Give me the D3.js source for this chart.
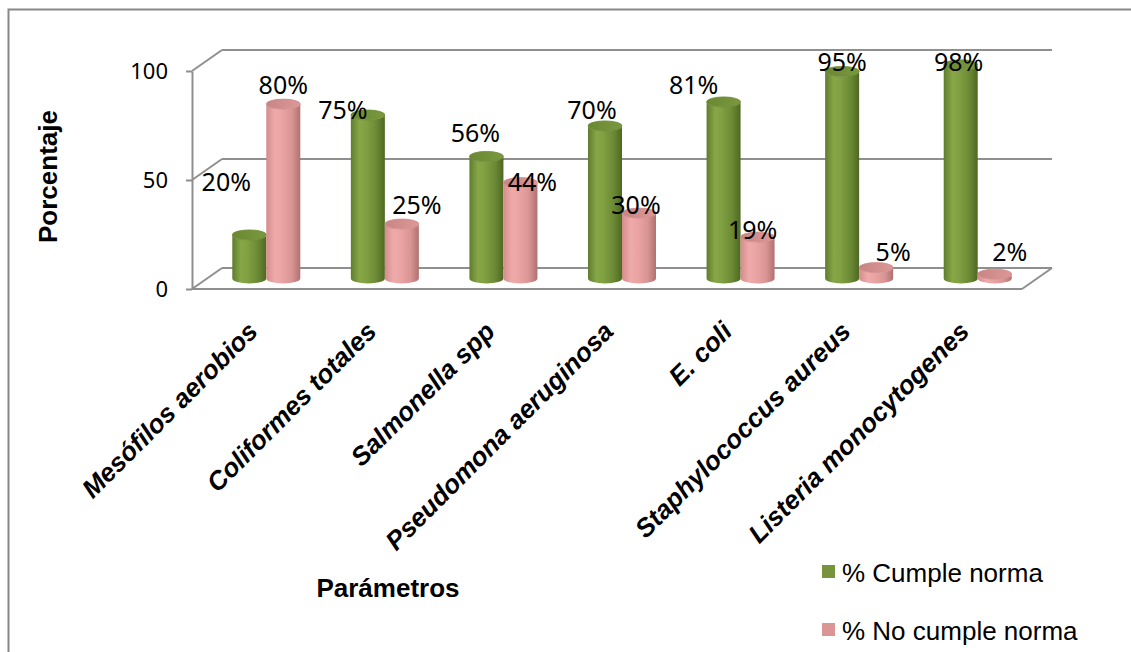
<!DOCTYPE html>
<html>
<head>
<meta charset="utf-8">
<script src="https://cdn.jsdelivr.net/npm/d3@7"></script>
<style>
  html, body { margin: 0; padding: 0; background: #fff; overflow: hidden; }
  svg { display: block; }
</style>
</head>
<body>
<svg id="chart" width="1131" height="652"></svg>
<script>
// ---------------- DATA ----------------
const categories = ["Mesófilos aerobios", "Coliformes totales", "Salmonella spp", "Pseudomona aeruginosa", "E. coli", "Staphylococcus aureus", "Listeria monocytogenes"];
const cumple = [20, 75, 56, 70, 81, 95, 98];
const noCumple = [80, 25, 44, 30, 19, 5, 2];
const seriesNames = ["% Cumple norma", "% No cumple norma"];
const yTicks = [0, 50, 100];
const yTitle = "Porcentaje";
const xTitle = "Parámetros";

// ---------------- LAYOUT ----------------
const svg = d3.select("#chart");
const depth = { dx: 30, dy: -21 };
const x = d3.scaleBand().domain(categories).range([192, 1022]).paddingInner(0).paddingOuter(0);
const y = d3.scaleLinear().domain([0, 100]).range([289, 71]);
const cylW = 34, ry = 5;
const colors = ["#77933C", "#DA9694"];
// label nudges (relative to default position above the cylinder top), mimicking Excel's 3-D placement
const labelNudge = [
  { dx: [-23, -25, -11, -13, -30, 0, -2], dy: [-40, 8, -10, -3, -4, 4, 10] },
  { dx: [0, 15, 12, -3, -5, 17, 15], dy: [-6, -6, 12, 5, 6, -3, -9] }
];

// defs: gradients
const defs = svg.append("defs");
function grad(id, stops) {
  const g = defs.append("linearGradient").attr("id", id).attr("x1", "0%").attr("x2", "100%").attr("y1", "0%").attr("y2", "0%");
  stops.forEach(s => g.append("stop").attr("offset", s[0]).attr("stop-color", s[1]));
}
grad("gGreen", [["0%", "#5f7d2d"], ["25%", "#86a647"], ["45%", "#80a042"], ["75%", "#6c8a35"], ["100%", "#4e6822"]]);
grad("gPink", [["0%", "#d38c8b"], ["25%", "#eeaaa9"], ["45%", "#eaa4a3"], ["75%", "#d99594"], ["100%", "#b07170"]]);
grad("gGreenTop", [["0%", "#6a8833"], ["100%", "#7a983e"]]);
grad("gPinkTop", [["0%", "#c98584"], ["100%", "#dc9897"]]);

// outer border
svg.append("rect").attr("x", 8.5).attr("y", 9.5).attr("width", 1140).attr("height", 660)
  .attr("fill", "none").attr("stroke", "#878787").attr("stroke-width", 2);

const gridColor = "#8f8f8f";
const frame = svg.append("g").attr("stroke", gridColor).attr("stroke-width", 2).attr("fill", "none");
const [x0, x1] = x.range();
// back wall gridlines + left wall diagonals
yTicks.forEach(t => {
  frame.append("line").attr("x1", x0 + depth.dx).attr("x2", x1 + depth.dx)
    .attr("y1", y(t) + depth.dy).attr("y2", y(t) + depth.dy);
  frame.append("line").attr("x1", x0).attr("x2", x0 + depth.dx)
    .attr("y1", y(t)).attr("y2", y(t) + depth.dy);
});
// floor
frame.append("line").attr("x1", x0).attr("x2", x1).attr("y1", y(0)).attr("y2", y(0));
frame.append("line").attr("x1", x1).attr("x2", x1 + depth.dx).attr("y1", y(0)).attr("y2", y(0) + depth.dy);

// y axis (front)
const yAxis = d3.axisLeft(y).tickValues(yTicks).tickSize(6).tickSizeOuter(0).tickPadding(18);
const ya = svg.append("g").attr("transform", `translate(${x0},0)`).call(yAxis);
ya.select(".domain").attr("stroke", gridColor).attr("stroke-width", 2);
ya.selectAll(".tick line").attr("stroke", gridColor).attr("stroke-width", 2);
ya.selectAll(".tick text").attr("font-family", "'Noto Sans', sans-serif").attr("font-size", 22).attr("fill", "#000");

// cylinders
const mid = { dx: depth.dx / 2, dy: depth.dy / 2 };
const series = [cumple, noCumple];
const gBars = svg.append("g");
series.forEach((vals, si) => {
  vals.forEach((v, i) => {
    const c = categories[i];
    const cx = x(c) + x.bandwidth() / 2 + mid.dx + (si === 0 ? -cylW / 2 : cylW / 2);
    const base = y(0) + mid.dy;
    const top = y(v) + mid.dy;
    const rx = cylW / 2;
    const path = `M${cx - rx},${top} L${cx - rx},${base} A${rx},${ry} 0 0 0 ${cx + rx},${base} L${cx + rx},${top} A${rx},${ry} 0 0 1 ${cx - rx},${top} Z`;
    gBars.append("path").attr("d", path).attr("fill", si === 0 ? "url(#gGreen)" : "url(#gPink)");
    gBars.append("ellipse").attr("cx", cx).attr("cy", top).attr("rx", rx).attr("ry", ry)
      .attr("fill", si === 0 ? "url(#gGreenTop)" : "url(#gPinkTop)")
      .attr("stroke", si === 0 ? "#6b8a32" : "#cf8c8b").attr("stroke-width", 0.8);
  });
});

// data labels
const gLab = svg.append("g").attr("font-family", "'Noto Sans', sans-serif").attr("font-size", 25).attr("fill", "#000");
series.forEach((vals, si) => {
  vals.forEach((v, i) => {
    const c = categories[i];
    const cx = x(c) + x.bandwidth() / 2 + mid.dx + (si === 0 ? -cylW / 2 : cylW / 2);
    const top = y(v) + mid.dy;
    gLab.append("text")
      .attr("x", cx + labelNudge[si].dx[i])
      .attr("y", top - 14 + labelNudge[si].dy[i])
      .attr("text-anchor", "middle").attr("dominant-baseline", "central")
      .text(v + "%");
  });
});

// category labels
const gCat = svg.append("g").attr("font-family", "'Liberation Sans', Arial, sans-serif")
  .attr("font-size", 26).attr("font-weight", "bold").attr("font-style", "italic").attr("fill", "#000");
categories.forEach(c => {
  const px = x(c) + x.bandwidth() / 2 + mid.dx - 7;
  const py = 333;
  gCat.append("text").attr("transform", `translate(${px},${py}) rotate(-45)`)
    .attr("text-anchor", "end").text(c);
});

// axis titles
svg.append("text").attr("transform", `translate(57,176.5) rotate(-90)`)
  .attr("text-anchor", "middle").attr("font-family", "'Liberation Sans', Arial, sans-serif")
  .attr("font-size", 26).attr("font-weight", "bold").text(yTitle);
svg.append("text").attr("x", 388).attr("y", 597)
  .attr("text-anchor", "middle").attr("font-family", "'Liberation Sans', Arial, sans-serif")
  .attr("font-size", 26).attr("font-weight", "bold").text(xTitle);

// legend
const leg = svg.append("g").attr("font-family", "'Liberation Sans', Arial, sans-serif").attr("font-size", 26);
seriesNames.forEach((n, i) => {
  const ly = 571.5 + i * 58;
  leg.append("rect").attr("x", 822).attr("y", ly - 6.5).attr("width", 13).attr("height", 13).attr("fill", colors[i]);
  leg.append("text").attr("x", 842).attr("y", ly + 10).text(n);
});
</script>
</body>
</html>
